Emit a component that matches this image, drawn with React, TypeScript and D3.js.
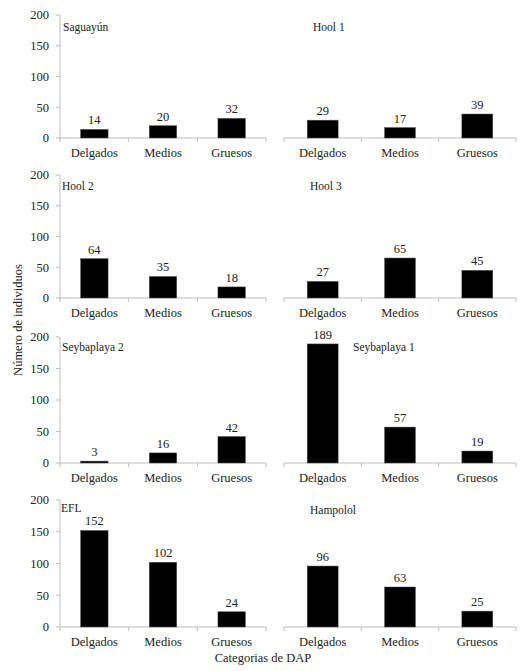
import * as d3 from 'd3';

const categories = ['Delgados', 'Medios', 'Gruesos'];
const sites = ['Saguayún', 'Hool 1', 'Hool 2', 'Hool 3', 'Seybaplaya 2', 'Seybaplaya 1', 'EFL', 'Hampolol'];
const saguayun = [14, 20, 32];
const hool1 = [29, 17, 39];
const hool2 = [64, 35, 18];
const hool3 = [27, 65, 45];
const seybaplaya2 = [3, 16, 42];
const seybaplaya1 = [189, 57, 19];
const efl = [152, 102, 24];
const hampolol = [96, 63, 25];
const seriesValues = [saguayun, hool1, hool2, hool3, seybaplaya2, seybaplaya1, efl, hampolol];
const yTicks = [0, 50, 100, 150, 200];
const yTitle = 'Número de individuos';
const xTitle = 'Categorias de DAP';

// layout of the 4x2 grid
const W = 527;
const H = 671;
const rowBottom = [138, 298, 463, 627];
const rowTop = [15, 175, 337, 500];
const colRange: [number, number][] = [
    [60, 266],
    [284, 516]
];
// title offsets (from column start) and baselines (from row top)
const titleDx = [3, 29, 2, 26, 2, 69, 1, 26];
const titleDy = [16, 16, 15, 15, 14, 14, 12, 14];

const font = "'Liberation Serif', 'Times New Roman', Times, serif";
const textColor = '#222';
const axisColor = '#bdbdbd';

function Panel({ idx }: { idx: number }) {
    const row = Math.floor(idx / 2);
    const col = idx % 2;
    const values = seriesValues[idx];
    const [x0, x1] = colRange[col];
    const y0 = rowBottom[row];
    const y1 = rowTop[row];

    const x = d3.scaleBand<string>().domain(categories).range([x0, x1]).paddingInner(0.6).paddingOuter(0.3);
    const y = d3.scaleLinear().domain([0, 200]).range([y0, y1]);
    const step = x.step();

    return (
        <g>
            {col === 0 && (
                <g>
                    <line x1={x0} x2={x0} y1={y(0)} y2={y(200)} stroke={axisColor} />
                    {yTicks.map((t) => (
                        <g key={t}>
                            <line x1={x0 - 4} x2={x0} y1={y(t)} y2={y(t)} stroke={axisColor} />
                            <text x={x0 - 11} y={y(t)} dy="0.35em" textAnchor="end" fontSize={12.5} fill={textColor}>
                                {t}
                            </text>
                        </g>
                    ))}
                </g>
            )}
            <line x1={x0} x2={x1} y1={y(0)} y2={y(0)} stroke={axisColor} />
            {d3.range(categories.length + 1).map((i) => (
                <line key={i} x1={x0 + i * step} x2={x0 + i * step} y1={y(0)} y2={y(0) + 4} stroke={axisColor} />
            ))}
            {categories.map((c, i) => (
                <g key={c}>
                    <rect
                        x={x(c)}
                        y={y(values[i])}
                        width={x.bandwidth()}
                        height={y(0) - y(values[i])}
                        fill="#000"
                        stroke="#555"
                        strokeWidth={0.5}
                    />
                    <text x={x(c)! + x.bandwidth() / 2} y={Math.max(y(values[i]) - 5, y(200) + 2)} textAnchor="middle" fontSize={12.5} fill={textColor}>
                        {values[i]}
                    </text>
                    <text x={x(c)! + x.bandwidth() / 2} y={y(0) + 19} textAnchor="middle" fontSize={12.5} fill={textColor}>
                        {c}
                    </text>
                </g>
            ))}
            <text x={x0 + titleDx[idx]} y={y1 + titleDy[idx]} fontSize={11.5} fill={textColor}>
                {sites[idx]}
            </text>
        </g>
    );
}

export default function App() {
    return (
        <svg
            width={W}
            height={H}
            viewBox={`0 0 ${W} ${H}`}
            style={{ position: 'absolute', left: 0, top: 0, background: '#fff', fontFamily: font }}
        >
            <rect width={W} height={H} fill="#fff" />
            {sites.map((s, i) => (
                <Panel key={s} idx={i} />
            ))}
            <text transform="translate(22, 320) rotate(-90)" textAnchor="middle" fontSize={12.5} fill={textColor}>
                {yTitle}
            </text>
            <text x={263} y={662} textAnchor="middle" fontSize={12.5} fill={textColor}>
                {xTitle}
            </text>
        </svg>
    );
}
